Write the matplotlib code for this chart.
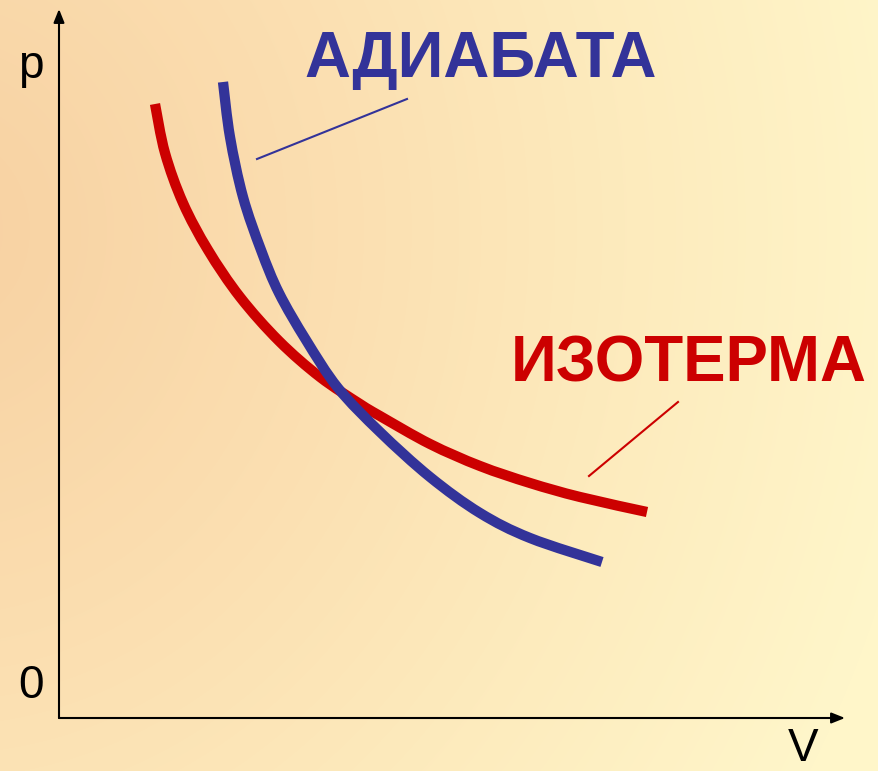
import numpy as np
import matplotlib
matplotlib.use("Agg")
import matplotlib.pyplot as plt
from matplotlib.colors import LinearSegmentedColormap
from matplotlib.path import Path
from matplotlib.patches import PathPatch

# Curve samples in (V, p) units
iso_V = [0.96, 1.06, 1.24, 1.49, 1.81, 2.20, 2.61, 3.01, 3.21, 3.71, 4.21, 4.71, 5.21, 5.88]
iso_p = [6.14, 5.65, 5.15, 4.68, 4.21, 3.77, 3.41, 3.14, 3.02, 2.74, 2.52, 2.35, 2.21, 2.06]

adi_V = [1.64, 1.71, 1.84, 2.02, 2.20, 2.47, 2.79, 3.21, 3.71, 4.21, 4.71, 5.43]
adi_p = [6.36, 5.81, 5.21, 4.68, 4.25, 3.78, 3.30, 2.86, 2.41, 2.05, 1.80, 1.56]

adi_label = "АДИАБАТА"
iso_label = "ИЗОТЕРМА"
p_label, zero_label, v_label = "p", "0", "V"

BLUE = "#333399"
RED = "#CC0000"

W, H = 879, 771
fig = plt.figure(figsize=(W / 100, H / 100), dpi=100)
ax = fig.add_axes([0, 0, 1, 1])
xlim = (-0.59, 8.20)
ylim = (-0.53, 7.18)
ax.set_xlim(*xlim)
ax.set_ylim(*ylim)
ax.axis("off")

# Warm background gradient, orange at the left fading to pale yellow
yy, xx = np.mgrid[0:H, 0:W]
d = np.hypot(xx + 60, (yy - 230) * 0.9)
t = np.clip(d / 1000.0, 0, 1)
cmap = LinearSegmentedColormap.from_list(
    "bg", ["#F8D3A4", "#FBDEB0", "#FDEBBD", "#FFF6CA"])
ax.imshow(t, cmap=cmap, extent=(xlim[0], xlim[1], ylim[0], ylim[1]),
          origin="upper", aspect="auto", zorder=0, interpolation="bilinear")


def smooth_path(xs, ys):
    """Cubic Bezier path passing through the given points (Catmull-Rom tangents)."""
    pts = np.column_stack([xs, ys]).astype(float)
    n = len(pts)
    verts = [pts[0]]
    codes = [Path.MOVETO]
    for i in range(n - 1):
        p0 = pts[max(i - 1, 0)]
        p1 = pts[i]
        p2 = pts[i + 1]
        p3 = pts[min(i + 2, n - 1)]
        c1 = p1 + (p2 - p0) / 6.0
        c2 = p2 - (p3 - p1) / 6.0
        verts += [c1, c2, p2]
        codes += [Path.CURVE4] * 3
    return Path(verts, codes)


# Axes with arrowheads
arrow = dict(arrowstyle="-|>,head_length=0.8,head_width=0.32", lw=1.5,
             color="black", shrinkA=0, shrinkB=0)
ax.annotate("", xy=(0, 7.09), xytext=(0, 0), arrowprops=arrow, zorder=2)
ax.annotate("", xy=(7.86, 0), xytext=(0, 0), arrowprops=arrow, zorder=2)

# Isotherm and adiabat
ax.add_patch(PathPatch(smooth_path(iso_V, iso_p), facecolor="none",
                       edgecolor=RED, lw=7.4, capstyle="butt", zorder=3))
ax.add_patch(PathPatch(smooth_path(adi_V, adi_p), facecolor="none",
                       edgecolor=BLUE, lw=7.4, capstyle="butt", zorder=4))

# Leader lines
ax.plot([1.98, 3.48], [5.59, 6.19], color=BLUE, lw=1.5, zorder=3)
ax.plot([5.30, 6.19], [2.42, 3.16], color=RED, lw=1.5, zorder=3)

bold = dict(family=["Liberation Sans", "DejaVu Sans"], weight="bold",
            fontsize=45.8, ha="left", va="baseline", zorder=5)
ax.text(2.45, 6.41, adi_label, color=BLUE, **bold)
ax.text(4.52, 3.36, iso_label, color=RED, **bold)

reg = dict(family=["Liberation Sans", "DejaVu Sans"], fontsize=33,
           ha="left", va="baseline", color="black", zorder=5)
ax.text(-0.41, 6.40, p_label, **reg)
ax.text(-0.41, 0.20, zero_label, **reg)
ax.text(7.29, -0.43, v_label, **reg)

fig.savefig("out.png", dpi=100)
